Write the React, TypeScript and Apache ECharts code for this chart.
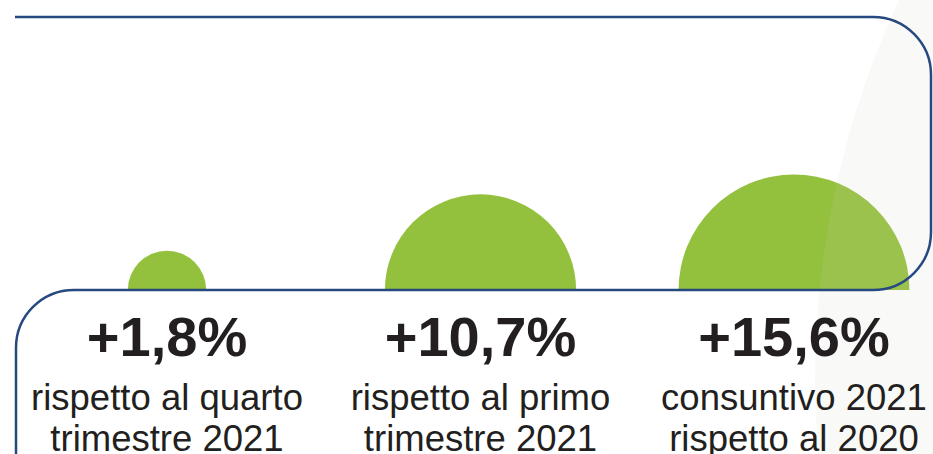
import React, { useEffect, useRef } from "react";
import * as echarts from "echarts";

// Data
const positions = [0, 1, 2];
const values = [1.8, 10.7, 15.6];
const valueLabels = ["+1,8%", "+10,7%", "+15,6%"];
const captionLine1 = ["rispetto al quarto", "rispetto al primo", "consuntivo 2021"];
const captionLine2 = ["trimestre 2021", "trimestre 2021", "rispetto al 2020"];

const GREEN = "#94c13d";
const BLUE = "#26497f";
const TEXT = "#231f20";
const FONT = "'Liberation Sans', Arial, Helvetica, sans-serif";

const framePath =
  "M15,17 L873,17 A58,58 0 0 1 931,75 L931,232 A58,58 0 0 1 873,290 L74,290 A58,58 0 0 0 16,348 L16,470";

let registered = false;
function ensureShape() {
  if (registered) return;
  echarts.graphic.registerShape("frame", echarts.graphic.extendPath(framePath, {}) as any);
  registered = true;
}

export default function App() {
  const ref = useRef<HTMLDivElement>(null);

  useEffect(() => {
    if (!ref.current) return;
    ensureShape();
    const chart = echarts.init(ref.current, undefined, { renderer: "svg" });
    const data = positions.map((p, i) => [p, values[i], i]);

    chart.setOption({
      animation: false,
      backgroundColor: "#ffffff",
      grid: { left: 167, right: 139, top: 27, bottom: 164 },
      xAxis: { type: "value", min: 0, max: 2, show: false },
      yAxis: { type: "value", min: 0, max: 9, show: false },
      series: [
        {
          type: "custom",
          z: 1,
          data,
          clip: false,
          renderItem: (params: any, api: any) => {
            const c = api.coord([api.value(0), 0]);
            const r = api.size([0, Math.sqrt(api.value(1))])[1];
            return {
              type: "sector",
              shape: {
                cx: c[0],
                cy: c[1],
                r0: 0,
                r,
                startAngle: Math.PI,
                endAngle: 2 * Math.PI,
                clockwise: true,
              },
              style: { fill: GREEN },
            };
          },
        },
        {
          type: "custom",
          z: 10,
          data,
          clip: false,
          renderItem: (params: any, api: any) => {
            const idx = api.value(2);
            const c = api.coord([api.value(0), 0]);
            return {
              type: "group",
              children: [
                {
                  type: "text",
                  style: {
                    x: c[0],
                    y: 336,
                    text: valueLabels[idx],
                    fill: TEXT,
                    font: `bold 56px ${FONT}`,
                    align: "center",
                    verticalAlign: "middle",
                  },
                },
                {
                  type: "text",
                  style: {
                    x: c[0],
                    y: 397,
                    text: captionLine1[idx],
                    fill: TEXT,
                    font: `36.5px ${FONT}`,
                    align: "center",
                    verticalAlign: "middle",
                  },
                },
                {
                  type: "text",
                  style: {
                    x: c[0],
                    y: 438,
                    text: captionLine2[idx],
                    fill: TEXT,
                    font: `36.5px ${FONT}`,
                    align: "center",
                    verticalAlign: "middle",
                  },
                },
              ],
            };
          },
        },
      ],
      graphic: [
        {
          type: "circle",
          z: 5,
          silent: true,
          shape: { cx: 1716, cy: 380, r: 901 },
          style: { fill: "rgba(205,207,200,0.12)" },
        },
        {
          type: "frame",
          z: 6,
          silent: true,
          x: 0,
          y: 0,
          style: { fill: "none", stroke: BLUE, lineWidth: 2.5 },
        },
      ],
    });

    return () => chart.dispose();
  }, []);

  return (
    <div
      ref={ref}
      style={{ position: "fixed", left: 0, top: 0, width: 933, height: 454 }}
    />
  );
}
